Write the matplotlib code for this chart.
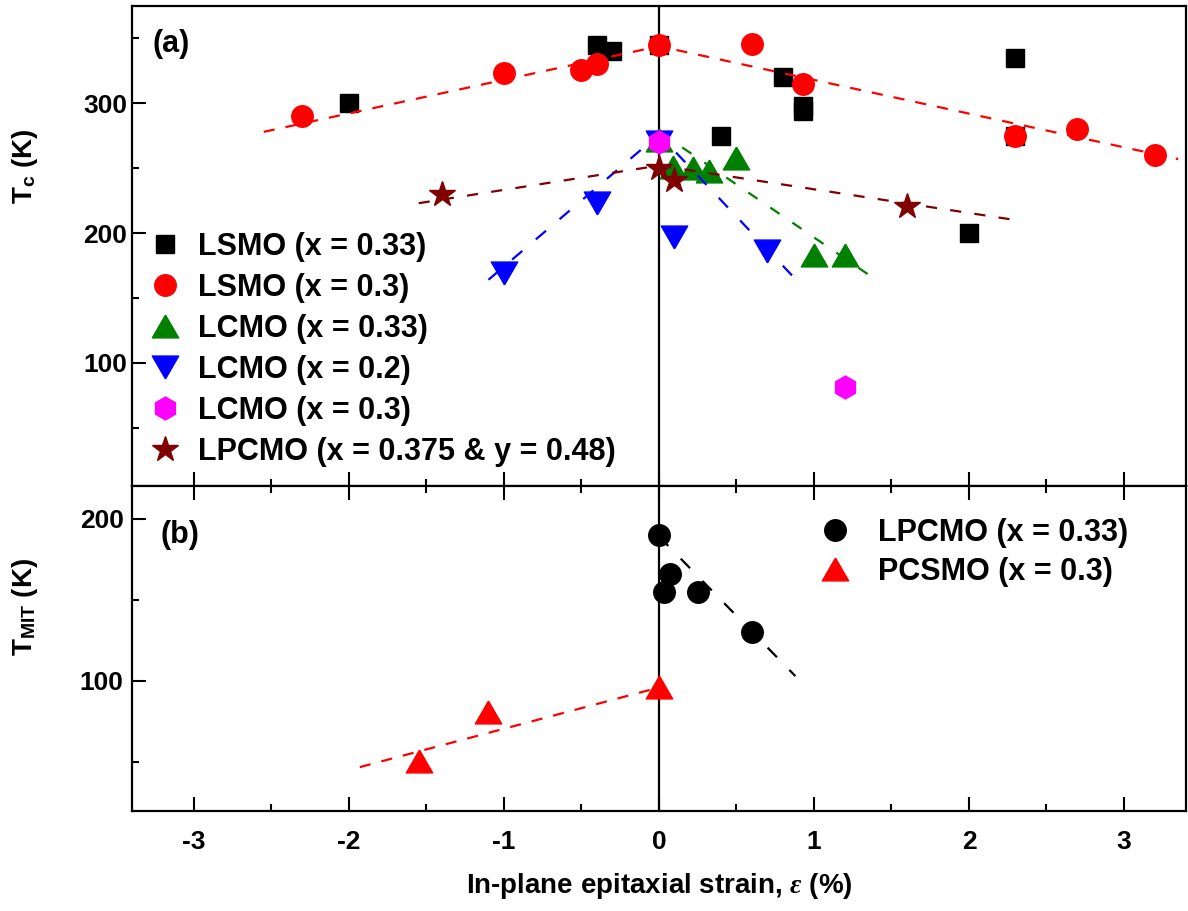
import numpy as np
import matplotlib
matplotlib.use("Agg")
import matplotlib.pyplot as plt
from matplotlib.ticker import MultipleLocator

# ---- data: panel (a), T_c vs strain ----
lsmo033_x = [-2.0, -0.4, -0.3, 0.0, 0.4, 0.8, 0.93, 0.93, 2.0, 2.3, 2.3]
lsmo033_y = [300, 345, 340, 345, 275, 320, 298, 294, 200, 335, 275]

lsmo03_x = [-2.3, -1.0, -0.5, -0.4, 0.0, 0.6, 0.93, 2.3, 2.7, 3.2]
lsmo03_y = [290, 323, 326, 330, 345, 346, 315, 275, 280, 260]

lcmo033_x = [0.0, 0.09, 0.22, 0.32, 0.5, 1.0, 1.2]
lcmo033_y = [272, 251, 250, 248, 258, 183, 183]

lcmo02_x = [-1.0, -0.4, 0.0, 0.1, 0.7]
lcmo02_y = [169, 223, 270, 197, 186]

lcmo03_x = [0.0, 1.2]
lcmo03_y = [270, 81]

lpcmo_x = [-1.4, 0.0, 0.1, 1.6]
lpcmo_y = [230, 250, 241, 221]

# guide lines (a)
fit_lsmo_x = [-2.55, 0.0, 3.35]
fit_lsmo_y = [278, 344, 257]
fit_lcmo033_x = [0.15, 1.4]
fit_lcmo033_y = [266, 164]
fit_lcmo02_x = [-1.1, 0.0, 0.9]
fit_lcmo02_y = [164, 276, 162]
fit_lpcmo_x = [-1.55, 0.0, 2.3]
fit_lpcmo_y = [223, 252, 210]

# ---- data: panel (b), T_MIT vs strain ----
lpcmo033_x = [0.0, 0.03, 0.07, 0.25, 0.6]
lpcmo033_y = [190, 155, 166, 155, 130]

pcsmo_x = [-1.55, -1.1, 0.0]
pcsmo_y = [51, 81, 96]

fit_lpcmo033_x = [0.0, 0.88]
fit_lpcmo033_y = [189, 103]
fit_pcsmo_x = [-1.93, 0.0]
fit_pcsmo_y = [47, 96]

legend_a = ["LSMO (x = 0.33)", "LSMO (x = 0.3)", "LCMO (x = 0.33)",
            "LCMO (x = 0.2)", "LCMO (x = 0.3)", "LPCMO (x = 0.375 & y = 0.48)"]
legend_b = ["LPCMO (x = 0.33)", "PCSMO (x = 0.3)"]

#--------------------#

plt.rcParams['font.family'] = ['Liberation Sans', 'DejaVu Sans']
plt.rcParams['font.weight'] = 'bold'
plt.rcParams['axes.unicode_minus'] = False
plt.rcParams['mathtext.fontset'] = 'custom'
plt.rcParams['mathtext.bf'] = 'Liberation Sans:bold'
plt.rcParams['mathtext.rm'] = 'Liberation Sans:bold'
plt.rcParams['mathtext.it'] = 'Liberation Serif:italic'

# equilateral triangles, centred on their bounding box
tri_up = [(0, 0.866), (-1, -0.866), (1, -0.866), (0, 0.866)]
tri_dn = [(0, -0.866), (-1, 0.866), (1, 0.866), (0, -0.866)]

fig = plt.figure(figsize=(11.88, 9.11), dpi=100)
ax_a = fig.add_axes([0.1111, 0.4665, 0.8872, 0.5269])
ax_b = fig.add_axes([0.1111, 0.1098, 0.8872, 0.3567])

dash = (0, (5, 5))
lw = 1.6
tick_fs = 19
leg_fs = 22

# panel (a)
ax_a.axvline(0, color='k', lw=1.6, zorder=1)
ax_a.plot(lsmo033_x, lsmo033_y, 's', ms=13.5, color='k', ls='none', zorder=2, label=legend_a[0])
ax_a.plot(lsmo03_x, lsmo03_y, 'o', ms=15.5, color='#ff0000', ls='none', zorder=2, label=legend_a[1])
ax_a.plot(lcmo033_x, lcmo033_y, marker=tri_up, ms=19, color='#008000', ls='none', zorder=2, label=legend_a[2])
ax_a.plot(lcmo02_x, lcmo02_y, marker=tri_dn, ms=19, color='#0000ff', ls='none', zorder=2, label=legend_a[3])
ax_a.plot(lcmo03_x, lcmo03_y, 'h', ms=16.5, color='#ff00ff', ls='none', zorder=4, label=legend_a[4])
ax_a.plot(lpcmo_x, lpcmo_y, '*', ms=19, color='#800000', ls='none', zorder=4, label=legend_a[5])

ax_a.plot(fit_lsmo_x, fit_lsmo_y, color='#ff0000', lw=lw, ls=dash, zorder=3)
ax_a.plot(fit_lcmo033_x, fit_lcmo033_y, color='#008000', lw=lw, ls=(0, (5, 7)), zorder=3)
ax_a.plot(fit_lcmo02_x, fit_lcmo02_y, color='#0000ff', lw=lw, ls=(0, (6, 8)), zorder=3)
ax_a.plot(fit_lpcmo_x, fit_lpcmo_y, color='#800000', lw=lw, ls=(0, (5, 6)), zorder=3)

ax_a.set_xlim(-3.4, 3.4)
ax_a.set_ylim(5, 375)
ax_a.yaxis.set_major_locator(MultipleLocator(100))
ax_a.yaxis.set_minor_locator(MultipleLocator(50))
ax_a.xaxis.set_major_locator(MultipleLocator(1))
ax_a.xaxis.set_minor_locator(MultipleLocator(0.5))
ax_a.tick_params(which='both', direction='in', top=False, right=False, bottom=True,
                 labelbottom=False, width=1.5)
ax_a.tick_params(which='major', length=10, labelsize=tick_fs)
ax_a.tick_params(which='minor', length=5)
ax_a.set_ylabel(r'T$_\mathbf{c}$ (K)', fontsize=20, fontweight='bold')
ax_a.yaxis.set_label_coords(-0.087, 0.667)
ax_a.text(0.019, 0.92, '(a)', transform=ax_a.transAxes, fontsize=22, fontweight='bold',
          va='center', ha='left')
ax_a.legend(loc='upper left', bbox_to_anchor=(0.0167, 0.530), frameon=False, fontsize=leg_fs,
            handlelength=1.0, handletextpad=0.6, labelspacing=0.36, borderpad=0,
            borderaxespad=0, numpoints=1)

# panel (b)
ax_b.axvline(0, color='k', lw=1.6, zorder=1)
ax_b.plot(lpcmo033_x, lpcmo033_y, 'o', ms=15.5, color='k', ls='none', zorder=2, label=legend_b[0])
ax_b.plot(pcsmo_x, pcsmo_y, marker=tri_up, ms=19, color='#ff0000', ls='none', zorder=2, label=legend_b[1])
ax_b.plot(fit_lpcmo033_x, fit_lpcmo033_y, color='k', lw=lw, ls=(0, (6, 8)), zorder=3)
ax_b.plot(fit_pcsmo_x, fit_pcsmo_y, color='#ff0000', lw=lw, ls=dash, zorder=3)

ax_b.set_xlim(-3.4, 3.4)
ax_b.set_ylim(20, 220)
ax_b.yaxis.set_major_locator(MultipleLocator(100))
ax_b.yaxis.set_minor_locator(MultipleLocator(50))
ax_b.xaxis.set_major_locator(MultipleLocator(1))
ax_b.xaxis.set_minor_locator(MultipleLocator(0.5))
ax_b.tick_params(which='both', direction='in', top=True, right=False, bottom=True, width=1.5)
ax_b.tick_params(which='major', length=10, labelsize=tick_fs, pad=14)
ax_b.tick_params(which='minor', length=5)
ax_b.tick_params(axis='y', which='major', pad=6)
ax_b.set_ylabel(r'T$_\mathbf{MIT}$ (K)', fontsize=20, fontweight='bold')
ax_b.yaxis.set_label_coords(-0.087, 0.628)
ax_b.set_xlabel(r'In-plane epitaxial strain, $\varepsilon$ (%)', fontsize=20, fontweight='bold',
                labelpad=12)
ax_b.text(0.027, 0.85, '(b)', transform=ax_b.transAxes, fontsize=22, fontweight='bold',
          va='center', ha='left')
ax_b.legend(loc='upper left', bbox_to_anchor=(0.6525, 0.9015), frameon=False, fontsize=leg_fs,
            handlelength=1.0, handletextpad=0.9, labelspacing=0.3, borderpad=0,
            borderaxespad=0, numpoints=1)

for ax in (ax_a, ax_b):
    for s in ax.spines.values():
        s.set_linewidth(1.6)

plt.setp(ax_a.get_yticklabels() + ax_b.get_yticklabels() + ax_b.get_xticklabels(), fontweight='bold')

fig.savefig('out.png', dpi=100)
